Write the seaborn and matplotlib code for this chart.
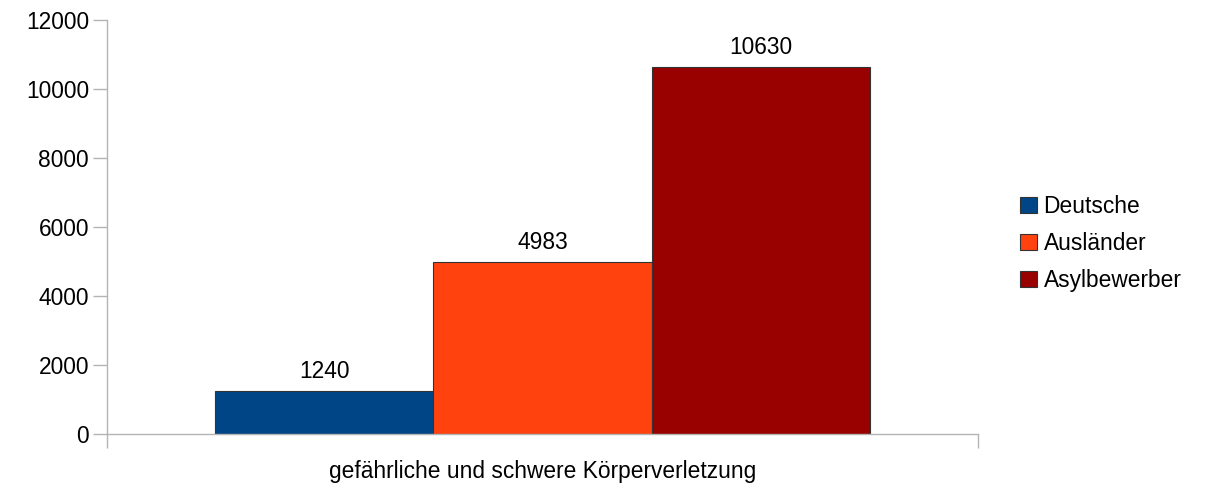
import matplotlib
matplotlib.use("Agg")
import matplotlib.pyplot as plt
import pandas as pd
import seaborn as sns

# chart data
category = ["gefährliche und schwere Körperverletzung"]
groups = ["Deutsche", "Ausländer", "Asylbewerber"]
values = [1240, 4983, 10630]
colors = ["#004586", "#ff420e", "#990000"]
y_ticks = [0, 2000, 4000, 6000, 8000, 10000, 12000]

FS = 16.4

df = pd.DataFrame({
    "Kategorie": category * len(groups),
    "Gruppe": groups,
    "Anzahl": values,
})

sns.set_style("white")
plt.rcParams["font.family"] = ["Liberation Sans", "DejaVu Sans"]
plt.rcParams["text.color"] = "black"
plt.rcParams["xtick.labelcolor"] = "black"
plt.rcParams["ytick.labelcolor"] = "black"

fig = plt.figure(figsize=(12.05, 4.84), dpi=100)
ax = fig.add_axes([0.0888, 0.1033, 0.7228, 0.8554])

sns.barplot(data=df, x="Kategorie", y="Anzahl", hue="Gruppe",
            palette=colors, saturation=1, width=0.752, edgecolor="#333333",
            linewidth=0.8, ax=ax, legend=True)

ax.set_xlim(-0.5, 0.5)
ax.set_ylim(0, 12000)
ax.set_yticks(y_ticks)
ax.set_yticklabels([str(t) for t in y_ticks], fontsize=FS)
ax.set_xlabel("")
ax.set_ylabel("")
ax.tick_params(axis="x", length=0, labelsize=FS, pad=19, labelcolor="black")
ax.tick_params(axis="y", length=10, width=1, color="#b3b3b3", pad=3,
               direction="out", left=True, labelcolor="black")
ax.set_xticks([-0.5, 0.5], minor=True)
ax.tick_params(axis="x", which="minor", length=10, width=1,
               color="#b3b3b3", direction="out", bottom=True)

for side in ["top", "right"]:
    ax.spines[side].set_visible(False)
for side in ["left", "bottom"]:
    ax.spines[side].set_color("#b3b3b3")
    ax.spines[side].set_linewidth(1)

for container in ax.containers:
    ax.bar_label(container, fmt="%.0f", padding=6, fontsize=FS, color="black")

handles, labels = ax.get_legend_handles_labels()
ax.legend(handles, labels, loc="center left", bbox_to_anchor=(1.025, 0.46),
          frameon=False, fontsize=FS, handlelength=0.72, handleheight=0.72,
          handletextpad=0.3, labelspacing=0.62)

fig.savefig("out.png", dpi=100)
